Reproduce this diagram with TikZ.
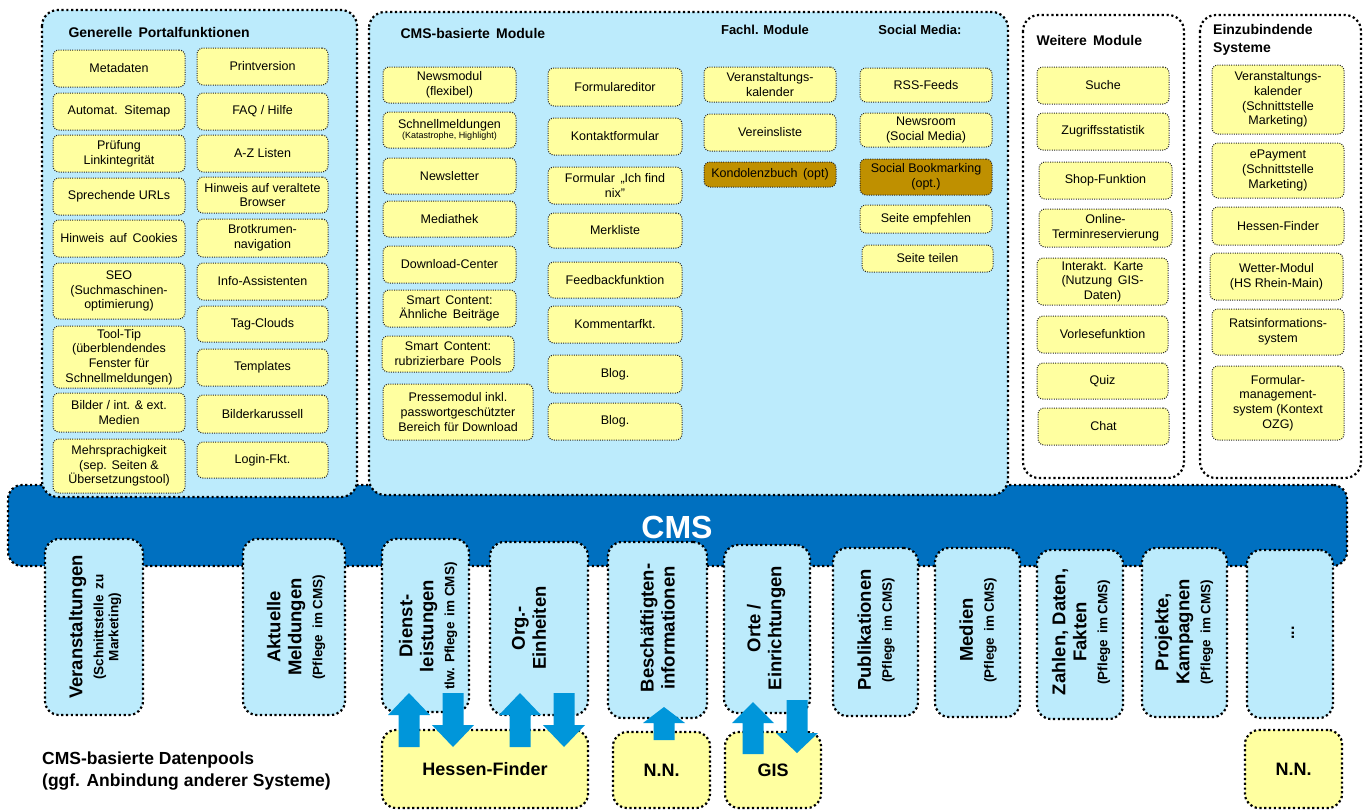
\documentclass[tikz,border=0pt]{standalone}
\usepackage{fontspec}
\setmainfont{Liberation Sans}
\definecolor{panelblue}{RGB}{188,235,252}
\definecolor{boxyellow}{RGB}{255,255,160}
\definecolor{optbrown}{RGB}{191,144,0}
\definecolor{cmsblue}{RGB}{0,112,192}
\definecolor{arrowblue}{RGB}{0,150,218}
\newcommand\bigv{\fontsize{18.5}{21}\selectfont\bfseries}
\newcommand\smallv{\fontsize{13.5}{15}\selectfont\bfseries}
\tikzset{
  dotborder/.style={line width=2.2pt, dash pattern=on 2.2pt off 2.6pt},
  fineborder/.style={line width=1pt, dash pattern=on 1pt off 1.3pt, draw=black!85},
  panel/.style={draw, dotborder, rounded corners=16pt},
  ybox/.style={draw, fineborder, fill=boxyellow, rounded corners=6pt, align=center,
    inner sep=0pt, font=\fontsize{12.5}{14.7}\selectfont},
  optbox/.style={fill=optbrown},
  pool/.style={draw, dotborder, fill=panelblue, rounded corners=14pt, inner sep=0pt},
  poollabel/.style={rotate=90, align=center, font=\bigv},
  dest/.style={draw, dotborder, fill=boxyellow, rounded corners=14pt, inner sep=0pt,
    font=\fontsize{18}{21}\selectfont\bfseries},
  flowarrow/.style={fill=arrowblue},
  head/.style={font=\fontsize{14}{18}\selectfont\bfseries},
  subhead/.style={font=\fontsize{13}{16}\selectfont\bfseries},
}
% \modbox[options]{name}{x1}{y1}{x2}{y2}{text}
\newcommand\modbox[7][]{%
  \node[ybox,minimum width={#5-#3},minimum height={#6-#4},#1] (#2)
    at ({(#3+#5)/2},{(#4+#6)/2}) {#7};}
% \poolbox{name}{x1}{y1}{x2}{y2}
\newcommand\poolbox[5]{%
  \node[pool,minimum width={#4-#2},minimum height={#5-#3}] (#1)
    at ({(#2+#4)/2},{(#3+#5)/2}) {};}
% block arrows: centre x, tip/top y, base/tip y, head length
\newcommand\flowup[4]{%
  \fill[flowarrow] (#1,#2) -- ({#1+21},{#2+#4}) -- ({#1+10.5},{#2+#4}) -- ({#1+10.5},#3)
    -- ({#1-10.5},#3) -- ({#1-10.5},{#2+#4}) -- ({#1-21},{#2+#4}) -- cycle;}
\newcommand\flowdown[4]{%
  \fill[flowarrow] (#1,#3) -- ({#1+21},{#3-#4}) -- ({#1+10.5},{#3-#4}) -- ({#1+10.5},#2)
    -- ({#1-10.5},#2) -- ({#1-10.5},{#3-#4}) -- ({#1-21},{#3-#4}) -- cycle;}
\begin{document}
\begin{tikzpicture}[x=1pt,y=-1pt]
\useasboundingbox (0,0) rectangle (1368,809);

% CMS bar
\node[draw, dotborder, fill=cmsblue, rounded corners=14pt, inner sep=0pt,
  minimum width=1339, minimum height=81] (cms) at (677.5,525.5) {};

% panels
\draw[panel, fill=panelblue] (42,10) rectangle (357,497);
\draw[panel, fill=panelblue] (369,12) rectangle (1008,495);
\draw[panel, fill=white] (1023,15) rectangle (1184,478);
\draw[panel, fill=white] (1200,15) rectangle (1361,478);

\node[head, anchor=west] (h1) at (65,32) {Generelle\, Portalfunktionen};
\node[head, anchor=west] (h2) at (397,33) {CMS-basierte\, Module};
\node[subhead] (h3) at (765,30) {Fachl. Module};
\node[subhead] (h4) at (920,30) {Social Media:};
\node[head, anchor=west] (h5) at (1033,40) {Weitere\, Module};
\node[head, anchor=north west, align=left, inner sep=0pt] (h6) at (1213,24) {Einzubindende\\Systeme};

% Generelle Portalfunktionen
\modbox{g1}{53}{50}{185}{87}{Metadaten}
\modbox{g2}{53}{93}{185}{130}{Automat.\, Sitemap}
\modbox{g3}{53}{135}{185}{172}{Prüfung\\Linkintegrität}
\modbox{g4}{53}{178}{185}{215}{Sprechende URLs}
\modbox{g5}{53}{220}{185}{257}{Hinweis\, auf\, Cookies}
\modbox{g6}{53}{263}{185}{319}{SEO\\(Suchmaschinen-\\optimierung)}
\modbox{g7}{53}{326}{185}{388}{Tool-Tip\\(überblendendes\\Fenster für\\Schnellmeldungen)}
\modbox{g8}{53}{393}{185}{432}{Bilder / int. \& ext.\\Medien}
\modbox{g9}{53}{439}{185}{493}{Mehrsprachigkeit\\(sep. Seiten \&\\Übersetzungstool)}
\modbox{g10}{197}{48}{328}{85}{Printversion}
\modbox{g11}{197}{93}{328}{130}{FAQ / Hilfe}
\modbox{g12}{197}{135}{328}{172}{A-Z Listen}
\modbox{g13}{197}{177}{328}{213}{Hinweis auf veraltete\\Browser}
\modbox{g14}{197}{219}{328}{257}{Brotkrumen-\\navigation}
\modbox{g15}{197}{263}{328}{300}{Info-Assistenten}
\modbox{g16}{197}{306}{328}{342}{Tag-Clouds}
\modbox{g17}{197}{349}{328}{386}{Templates}
\modbox{g18}{197}{395}{328}{433}{Bilderkarussell}
\modbox{g19}{197}{442}{328}{478}{Login-Fkt.}

% CMS-basierte Module
\modbox{c1}{383}{67}{516}{103}{Newsmodul\\(flexibel)}
\modbox{c2}{383}{112}{516}{148}{Schnellmeldungen\\[-4pt]{\fontsize{9}{10}\selectfont (Katastrophe, Highlight)}}
\modbox{c3}{383}{158}{516}{194}{Newsletter}
\modbox{c4}{383}{201}{516}{237}{Mediathek}
\modbox{c5}{383}{246}{516}{283}{Download-Center}
\modbox{c6}{383}{290}{516}{327}{Smart\, Content:\\Ähnliche\, Beiträge}
\modbox{c7}{382}{336}{514}{372}{Smart\, Content:\\rubrizierbare\, Pools}
\modbox{c8}{383}{384}{533}{440}{Pressemodul inkl.\\passwortgeschützter\\Bereich für Download}
\modbox{c9}{548}{68}{682}{106}{Formulareditor}
\modbox{c10}{548}{118}{682}{155}{Kontaktformular}
\modbox{c11}{548}{167}{682}{204}{Formular\, „Ich find\\nix"}
\modbox{c12}{548}{213}{682}{248}{Merkliste}
\modbox{c13}{548}{262}{682}{298}{Feedbackfunktion}
\modbox{c14}{548}{306}{682}{343}{Kommentarfkt.}
\modbox{c15}{548}{355}{682}{393}{Blog.}
\modbox{c16}{548}{403}{682}{440}{Blog.}

% Fachl. Module
\modbox{f1}{704}{67}{836}{102}{Veranstaltungs-\\kalender}
\modbox{f2}{704}{114}{836}{151}{Vereinsliste}
\modbox[optbox]{f3}{704}{162}{836}{187}{Kondolenzbuch\, (opt)}

% Social Media
\modbox{s1}{860}{68}{992}{102}{RSS-Feeds}
\modbox{s2}{860}{113}{992}{147}{Newsroom\\(Social Media)}
\modbox[optbox]{s3}{860}{159}{992}{195}{Social Bookmarking\\(opt.)}
\modbox{s4}{860}{205}{992}{233}{Seite empfehlen}
\modbox{s5}{862}{245}{993}{272}{Seite teilen}

% Weitere Module
\modbox{w1}{1037}{67}{1169}{104}{Suche}
\modbox{w2}{1037}{113}{1169}{150}{Zugriffsstatistik}
\modbox{w3}{1039}{162}{1172}{199}{Shop-Funktion}
\modbox{w4}{1039}{209}{1172}{247}{Online-\\Terminreservierung}
\modbox{w5}{1037}{258}{1168}{305}{Interakt.\, Karte\\(Nutzung\, GIS-\\Daten)}
\modbox{w6}{1037}{316}{1168}{353}{Vorlesefunktion}
\modbox{w7}{1037}{363}{1168}{399}{Quiz}
\modbox{w8}{1038}{408}{1169}{445}{Chat}

% Einzubindende Systeme
\modbox{e1}{1212}{65}{1344}{134}{Veranstaltungs-\\kalender\\(Schnittstelle\\Marketing)}
\modbox{e2}{1212}{143}{1344}{198}{ePayment\\(Schnittstelle\\Marketing)}
\modbox{e3}{1212}{207}{1344}{245}{Hessen-Finder}
\modbox{e4}{1210}{253}{1343}{300}{Wetter-Modul\\(HS Rhein-Main)}
\modbox{e5}{1212}{309}{1344}{355}{Ratsinformations-\\system}
\modbox{e6}{1212}{366}{1344}{440}{Formular-\\management-\\system (Kontext\\OZG)}

% data pools below the CMS
\poolbox{p1}{45}{539}{143}{715}
\poolbox{p2}{243}{539}{345}{715}
\poolbox{p3}{382}{539}{469}{712}
\poolbox{p4}{490}{542}{588}{715}
\poolbox{p5}{608}{542}{707}{718}
\poolbox{p6}{724}{545}{810}{713}
\poolbox{p7}{833}{548}{918}{716}
\poolbox{p8}{935}{548}{1020}{717}
\poolbox{p9}{1037}{550}{1123}{719}
\poolbox{p10}{1142}{548}{1227}{717}
\poolbox{p11}{1247}{550}{1333}{718}

\node[poollabel] (l1) at (95,627) {Veranstaltungen\\{\smallv (Schnittstelle\, zu}\\[-6pt]{\smallv Marketing)}};
\node[poollabel] (l2) at (296,627) {Aktuelle\\Meldungen\\{\smallv (Pflege\, im CMS)}};
\node[poollabel] (l3) at (428,626) {Dienst-\\leistungen\\{\smallv tlw. Pflege\, im CMS)}};
\node[poollabel] (l4) at (529,628) {Org.-\\Einheiten};
\node[poollabel] (l5) at (657.5,628) {Beschäftigten-\\informationen};
\node[poollabel] (l6) at (766,628) {Orte /\\Einrichtungen};
\node[poollabel] (l7) at (876,630) {Publikationen\\{\smallv (Pflege\, im CMS)}};
\node[poollabel] (l8) at (978,630) {Medien\\{\smallv (Pflege\, im CMS)}};
\node[poollabel] (l9) at (1081,632) {Zahlen, Daten,\\Fakten\\{\smallv (Pflege\, im CMS)}};
\node[poollabel] (l10) at (1184,632) {Projekte,\\Kampagnen\\{\smallv (Pflege\, im CMS)}};
\node[rotate=90, font=\fontsize{16}{18}\selectfont\bfseries] (l11) at (1293,633) {...};

% external systems
\node[dest, minimum width=206, minimum height=78] (hf) at (485,769) {Hessen-Finder};
\node[dest, minimum width=97, minimum height=76] (nn1) at (661.5,770) {N.N.};
\node[dest, minimum width=96, minimum height=76] (gis) at (773,770) {GIS};
\node[dest, minimum width=97, minimum height=78] (nn2) at (1293.5,769) {N.N.};

% exchange arrows
\flowup{409}{693}{747}{22}
\flowdown{453}{693}{747}{22}
\flowup{520}{693}{747}{22}
\flowdown{564}{693}{747}{22}
\flowup{664}{707}{740}{16}
\flowup{753}{702}{754}{21}
\flowdown{797}{700}{753}{20}

\node[text=white, font=\fontsize{32}{36}\selectfont\bfseries] (cmslabel) at (677,527) {CMS};

\node[anchor=north west, align=left, inner sep=0pt, font=\fontsize{17.5}{22}\selectfont\bfseries]
  (pools) at (42,752) {CMS-basierte Datenpools\\(ggf. Anbindung anderer Systeme)};
\end{tikzpicture}
\end{document}
